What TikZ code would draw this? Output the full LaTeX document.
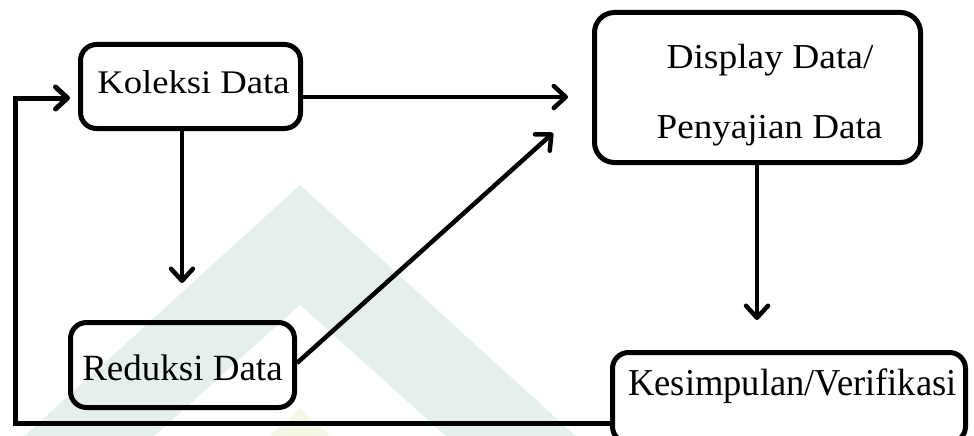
\documentclass[tikz,border=0pt]{standalone}
\usepackage{fontspec}
\setmainfont{Liberation Serif}
\usetikzlibrary{arrows.meta}
\definecolor{wmgreen}{HTML}{E5F0EE}
\definecolor{wmyellow}{HTML}{F5F6E6}
\tikzset{
  box/.style={draw=black, line width=5pt, rounded corners=16pt, fill=none, inner sep=0pt},
  lbl/.style={anchor=base, inner sep=0pt, text=black},
  arr/.style={line width=4.5pt, -{Straight Barb[length=12pt,width=22pt,round]}},
  fbline/.style={line width=5pt, miter limit=10, -{Straight Barb[length=12pt,width=22pt,round]}}
}
\begin{document}
\begin{tikzpicture}[x=1pt,y=1pt]
\useasboundingbox (0,0) rectangle (974,-436);
\fill[white] (0,0) rectangle (974,-436);
% watermark
\fill[wmgreen] (20,-440) -- (300,-185) -- (580,-440) -- cycle;
\fill[white] (150,-440) -- (300,-305) -- (450,-440) -- cycle;
\fill[wmyellow] (265,-440) -- (300,-408) -- (335,-440) -- cycle;
% boxes
\node[box, minimum width=220pt, minimum height=84pt] (kol) at (190.5,-86.5) {};
\node[box, minimum width=326pt, minimum height=150pt, rounded corners=20pt] (disp) at (757.5,-87.5) {};
\node[box, minimum width=224pt, minimum height=85pt] (red) at (182.5,-365) {};
\node[box, minimum width=353pt, minimum height=90pt] (kes) at (789,-397.5) {};
% texts
\node[lbl] (kolt) at (193.5,-93) {\fontsize{33}{40}\selectfont\scalebox{1.11}[1]{Koleksi Data}};
\node[lbl] (dt1) at (770,-68) {\fontsize{35}{42}\selectfont\scalebox{1.07}[1]{Display Data/}};
\node[lbl] (dt2) at (769.5,-138) {\fontsize{35}{42}\selectfont\scalebox{1.06}[1]{Penyajian Data}};
\node[lbl] (redt) at (182.5,-380) {\fontsize{37}{44}\selectfont Reduksi Data};
\node[lbl] (kest) at (792.5,-395) {\fontsize{38}{46}\selectfont\scalebox{0.96}[1]{Kesimpulan/Verifikasi}};
% free ends
\coordinate (t1) at (568,-97);
\coordinate (t2) at (182,-283);
\coordinate (t3) at (553,-133);
\coordinate (t4) at (757,-320);
\coordinate (t5) at (70,-98);
\coordinate (fb) at (15,-260);
% connectors
\draw[arr] ([yshift=-10.5pt]kol.east) -- (t1);
\draw[arr] ([xshift=-8.5pt]kol.south) -- (t2);
\draw[arr] ([yshift=2pt]red.east) -- (t3);
\draw[arr] (disp.south -| t4) -- (t4);
\draw[fbline] ([yshift=-25.5pt]kes.west) -| (fb) |- (t5);
\end{tikzpicture}
\end{document}
